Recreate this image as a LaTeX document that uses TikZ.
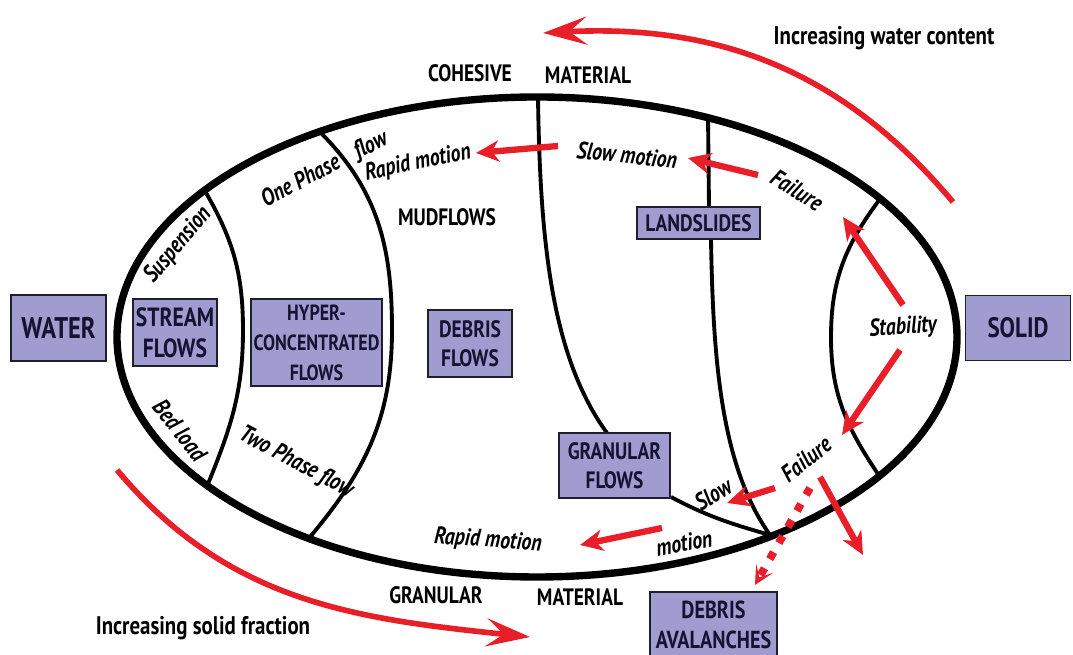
\documentclass[tikz,border=0pt]{standalone}
\usepackage{fontspec}
\setmainfont{PT Sans}[FakeStretch=0.82]
\usetikzlibrary{arrows.meta}
\definecolor{redA}{RGB}{232,30,40}
\definecolor{boxfill}{RGB}{160,156,208}
\definecolor{boxtext}{RGB}{20,20,50}
\definecolor{boxline}{RGB}{30,30,44}
\begin{document}
\begin{tikzpicture}[x=0.02cm,y=0.02cm,
  box/.style={draw=boxline, line width=1.1pt, fill=boxfill, text=boxtext, align=center, inner sep=0pt,
    font=\bfseries\fontsize{13.5}{16.5}\selectfont},
  bigbox/.style={box, font=\bfseries\fontsize{17}{19}\selectfont},
  captxt/.style={font=\bfseries\fontsize{13.5}{15}\selectfont, inner sep=0pt},
  labtxt/.style={font=\bfseries\itshape\fontsize{13.8}{15}\selectfont, inner sep=0pt},
  outline/.style={line width=4.2pt},
  divider/.style={line width=2.2pt},
  bigarrow/.style={redA, line width=3.2pt, -{Stealth[length=25pt,width=16pt,inset=10pt]}},
  smallarrow/.style={redA, line width=3.6pt, -{Stealth[length=13pt,width=12pt,inset=4pt]}},
  dotarrow/.style={redA, line width=4.5pt, dash pattern=on 4.5pt off 6pt, -{Stealth[length=11pt,width=11pt,inset=6pt]}}
]
\useasboundingbox (0,0) rectangle (1073,655);

% outline ellipse
\draw[outline] (537,318) ellipse [x radius=420, y radius=240];

% dividing curves
\draw[divider] (205,464) to[out=-60,in=90] (243,325) to[out=-90,in=68] (208,171);
\draw[divider] (320,523) to[out=-45,in=90] (392,325) to[out=-90,in=50] (310,118);
\draw[divider] (538,558) .. controls (540,420) and (550,300) .. (607,222);
\draw[divider] (708,540) -- (709,448);
\draw[divider] (711,416) .. controls (713,300) and (720,190) .. (770,120);
\draw[divider] (880,456) to[out=-127,in=90] (831,318) to[out=-90,in=124] (878,181);
\draw[divider] (671,158) to[out=-28,in=164] (770,120);

% boxes
\node[bigbox, minimum width=1.9cm, minimum height=1.32cm] (water) at (58.5,327) {WATER};
\node[bigbox, font=\bfseries\fontsize{16}{19}\selectfont, minimum width=2.1cm, minimum height=1.3cm] (solid) at (1018,327) {SOLID};
\node[box, font=\bfseries\fontsize{15}{17.5}\selectfont, minimum width=1.68cm, minimum height=1.34cm] (stream) at (175,322.5) {STREAM\\FLOWS};
\node[box, font=\bfseries\fontsize{12.5}{17}\selectfont, minimum width=2.62cm, minimum height=1.74cm] (hyper) at (316.5,312.5) {HYPER-\\CONCENTRATED\\FLOWS};
\node[box, minimum width=1.68cm, minimum height=1.34cm] (debris) at (470,311.5) {DEBRIS\\FLOWS};
\node[box, minimum width=2.46cm, minimum height=0.64cm] (land) at (698.5,432) {LANDSLIDES};
\node[box, minimum width=2.22cm, minimum height=1.3cm] (granular) at (614.5,189.5) {GRANULAR\\FLOWS};
\node[box, font=\bfseries\fontsize{14}{17}\selectfont, minimum width=2.54cm, minimum height=1.32cm] (aval) at (713.5,30) {DEBRIS\\AVALANCHES};

% captions
\node[captxt] (coh) at (470,582) {COHESIVE};
\node[captxt] (mat1) at (588,580) {MATERIAL};
\node[captxt] (mud) at (447,438) {MUDFLOWS};
\node[captxt] (gran) at (436,60) {GRANULAR};
\node[captxt] (mat2) at (580,58) {MATERIAL};
\node[captxt, font=\bfseries\fontsize{14.5}{16}\selectfont] (iwc) at (884,617) {Increasing water content};
\node[captxt, font=\bfseries\fontsize{14.5}{16}\selectfont] (isf) at (203,27) {Increasing solid fraction};

% italic labels
\node[labtxt, rotate=50] (susp) at (178,410) {Suspension};
\node[labtxt, rotate=28] (onep) at (300,475) {One Phase};
\node[labtxt, rotate=25] (flow) at (371,509) {flow};
\node[labtxt, rotate=12] (rap1) at (418,492) {Rapid motion};
\node[labtxt, rotate=-6] (slow1) at (627,500) {Slow motion};
\node[labtxt, rotate=-32] (fail1) at (797,465) {Failure};
\node[labtxt, rotate=4] (stab) at (903,327) {Stability};
\node[labtxt, rotate=-52] (bed) at (180,225) {Bed load};
\node[labtxt, rotate=-28] (twop) at (296,192) {Two Phase flow};
\node[labtxt, rotate=-4] (rap2) at (488,114) {Rapid motion};
\node[labtxt, rotate=10] (mot2) at (684,112) {motion};
\node[labtxt, rotate=32] (slow2) at (713,161) {Slow};
\node[labtxt, rotate=38] (fail2) at (806,196) {Failure};

% red arrows
\coordinate (wcS) at (953,453); \coordinate (wcE) at (543,622);
\draw[bigarrow] (wcS) to[out=130,in=3] (wcE);
\coordinate (sfS) at (117,185); \coordinate (sfE) at (530,18);
\draw[bigarrow] (sfS) to[out=-50,in=174] (sfE);

\coordinate (a1s) at (558,509); \coordinate (a1e) at (476,502);
\coordinate (a2s) at (758,480); \coordinate (a2e) at (688,497);
\coordinate (a3s) at (903,350); \coordinate (a3e) at (843,438);
\coordinate (a4s) at (900,305); \coordinate (a4e) at (842,220);
\coordinate (a5s) at (775,167); \coordinate (a5e) at (727,152);
\coordinate (a6s) at (820,178); \coordinate (a6e) at (863,100);
\coordinate (a7s) at (810,167); \coordinate (a7e) at (755,70);
\coordinate (a8s) at (662,127); \coordinate (a8e) at (580,110);
\draw[smallarrow] (a1s) -- (a1e);
\draw[smallarrow] (a2s) -- (a2e);
\draw[smallarrow] (a3s) -- (a3e);
\draw[smallarrow] (a4s) -- (a4e);
\draw[smallarrow] (a5s) -- (a5e);
\draw[smallarrow] (a6s) -- (a6e);
\draw[dotarrow] (a7s) -- (a7e);
\draw[smallarrow] (a8s) -- (a8e);
\end{tikzpicture}
\end{document}
